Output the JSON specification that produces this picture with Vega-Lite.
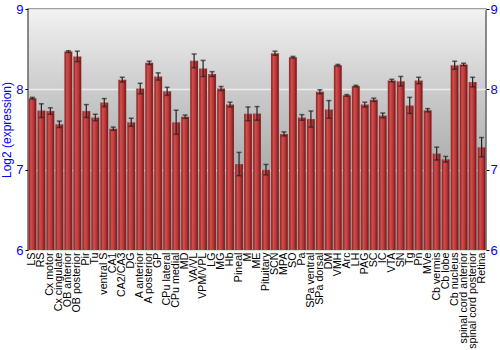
{
  "$schema": "https://vega.github.io/schema/vega-lite/v6.json",
  "autosize": "none",
  "width": 458,
  "height": 241,
  "padding": {"left": 28, "top": 9, "right": 14, "bottom": 100},
  "background": "white",
  "config": {
    "view": {
      "stroke": "#666666",
      "strokeWidth": 1.5,
      "fill": {"gradient": "linear", "x1": 0, "y1": 0, "x2": 0, "y2": 1,
        "stops": [{"offset": 0, "color": "#f2f2f2"}, {"offset": 0.35, "color": "#cacaca"}, {"offset": 1, "color": "#8e8e8e"}]}
    },
    "font": "Liberation Sans"
  },
  "data": {"values": [
    {"name": "LS", "v": 7.89, "e": 0.01},
    {"name": "RS", "v": 7.735, "e": 0.085},
    {"name": "Cx motor", "v": 7.73, "e": 0.04},
    {"name": "Cx cingulate", "v": 7.565, "e": 0.04},
    {"name": "OB anterior", "v": 8.47, "e": 0.01},
    {"name": "OB posterior", "v": 8.41, "e": 0.065},
    {"name": "Pir", "v": 7.73, "e": 0.08},
    {"name": "Tu", "v": 7.65, "e": 0.04},
    {"name": "ventral S", "v": 7.835, "e": 0.05},
    {"name": "CA1", "v": 7.51, "e": 0.02},
    {"name": "CA2/CA3", "v": 8.12, "e": 0.03},
    {"name": "DG", "v": 7.59, "e": 0.05},
    {"name": "A anterior", "v": 8.01, "e": 0.065},
    {"name": "A posterior", "v": 8.33, "e": 0.02},
    {"name": "GP", "v": 8.16, "e": 0.045},
    {"name": "CPu lateral", "v": 7.975, "e": 0.05},
    {"name": "CPu medial", "v": 7.59, "e": 0.15},
    {"name": "MD", "v": 7.66, "e": 0.02},
    {"name": "VA/VL", "v": 8.355, "e": 0.085},
    {"name": "VPM/VPL", "v": 8.26, "e": 0.1},
    {"name": "LG", "v": 8.19, "e": 0.03},
    {"name": "MG", "v": 8.01, "e": 0.025},
    {"name": "Hb", "v": 7.81, "e": 0.03},
    {"name": "Pineal", "v": 7.07, "e": 0.145},
    {"name": "M", "v": 7.695, "e": 0.085},
    {"name": "ME", "v": 7.7, "e": 0.085},
    {"name": "Pituitary", "v": 7.0, "e": 0.065},
    {"name": "SCN", "v": 8.45, "e": 0.025},
    {"name": "MPA", "v": 7.445, "e": 0.025},
    {"name": "SO", "v": 8.4, "e": 0.01},
    {"name": "Pa", "v": 7.65, "e": 0.035},
    {"name": "SPa ventral", "v": 7.63, "e": 0.1},
    {"name": "SPa dorsal", "v": 7.97, "e": 0.025},
    {"name": "DM", "v": 7.75, "e": 0.11},
    {"name": "VMH", "v": 8.3, "e": 0.01},
    {"name": "Arc", "v": 7.925, "e": 0.01},
    {"name": "LH", "v": 8.04, "e": 0.01},
    {"name": "PAG", "v": 7.81, "e": 0.03},
    {"name": "SC", "v": 7.87, "e": 0.02},
    {"name": "IC", "v": 7.675, "e": 0.03},
    {"name": "VTA", "v": 8.11, "e": 0.015},
    {"name": "SN", "v": 8.1, "e": 0.06},
    {"name": "Tg", "v": 7.8, "e": 0.1},
    {"name": "Pn", "v": 8.11, "e": 0.04},
    {"name": "MVe", "v": 7.74, "e": 0.02},
    {"name": "Cb vermis", "v": 7.2, "e": 0.08},
    {"name": "Cb lobe", "v": 7.13, "e": 0.035},
    {"name": "Cb nucleus", "v": 8.3, "e": 0.05},
    {"name": "spinal cord anterior", "v": 8.31, "e": 0.015},
    {"name": "spinal cord posterior", "v": 8.09, "e": 0.06},
    {"name": "Retina", "v": 7.28, "e": 0.12}
  ]},
  "encoding": {
    "x": {"field": "name", "type": "nominal", "sort": null,
      "scale": {"paddingInner": 0.12, "paddingOuter": 0.05},
      "axis": {"title": null, "labelAngle": -90, "labelFontSize": 10.7, "labelColor": "black", "ticks": false, "domain": false, "labelPadding": 2}
    }
  },
  "layer": [
    {
      "mark": {"type": "bar", "clip": true, "stroke": "#c9a0a0", "strokeWidth": 0.5, "strokeOpacity": 0.6,
        "color": {"gradient": "linear", "x1": 0, "y1": 0, "x2": 1, "y2": 0,
          "stops": [{"offset": 0, "color": "#7a1414"}, {"offset": 0.3, "color": "#cf4f4f"}, {"offset": 0.65, "color": "#b93535"}, {"offset": 1, "color": "#6a0f0f"}]}},
      "encoding": {
        "y": {"field": "v", "type": "quantitative",
          "scale": {"domain": [6, 9], "zero": false, "nice": false},
          "axis": {"title": "Log2 (expression)", "titleColor": "#0000ff", "titleFontSize": 12, "titleFontWeight": "normal", "titlePadding": 2,
            "labelColor": "#0000ff", "labelFontSize": 13, "values": [6, 7, 8, 9], "tickColor": "black", "tickSize": 3, "domain": false,
            "grid": true, "gridColor": "#f4f4f4", "gridOpacity": 0.8, "gridWidth": 1.5, "labelPadding": 2}
        }
      }
    },
    {
      "mark": {"type": "errorbar", "ticks": {"size": 5, "color": "#222222", "thickness": 1.5}, "rule": {"color": "#222222", "strokeWidth": 1.2}},
      "encoding": {
        "y": {"field": "v", "type": "quantitative", "scale": {"domain": [6, 9], "zero": false, "nice": false}, "axis": null},
        "yError": {"field": "e"}
      }
    },
    {
      "mark": {"type": "rule", "opacity": 0},
      "encoding": {
        "y": {"field": "v", "type": "quantitative",
          "axis": {"orient": "right", "title": null, "labelColor": "#0000ff", "labelFontSize": 13, "values": [6, 7, 8, 9], "tickColor": "black", "tickSize": 3, "domain": false, "grid": false, "labelPadding": 1}}
      }
    }
  ],
  "resolve": {"axis": {"y": "independent"}}
}
